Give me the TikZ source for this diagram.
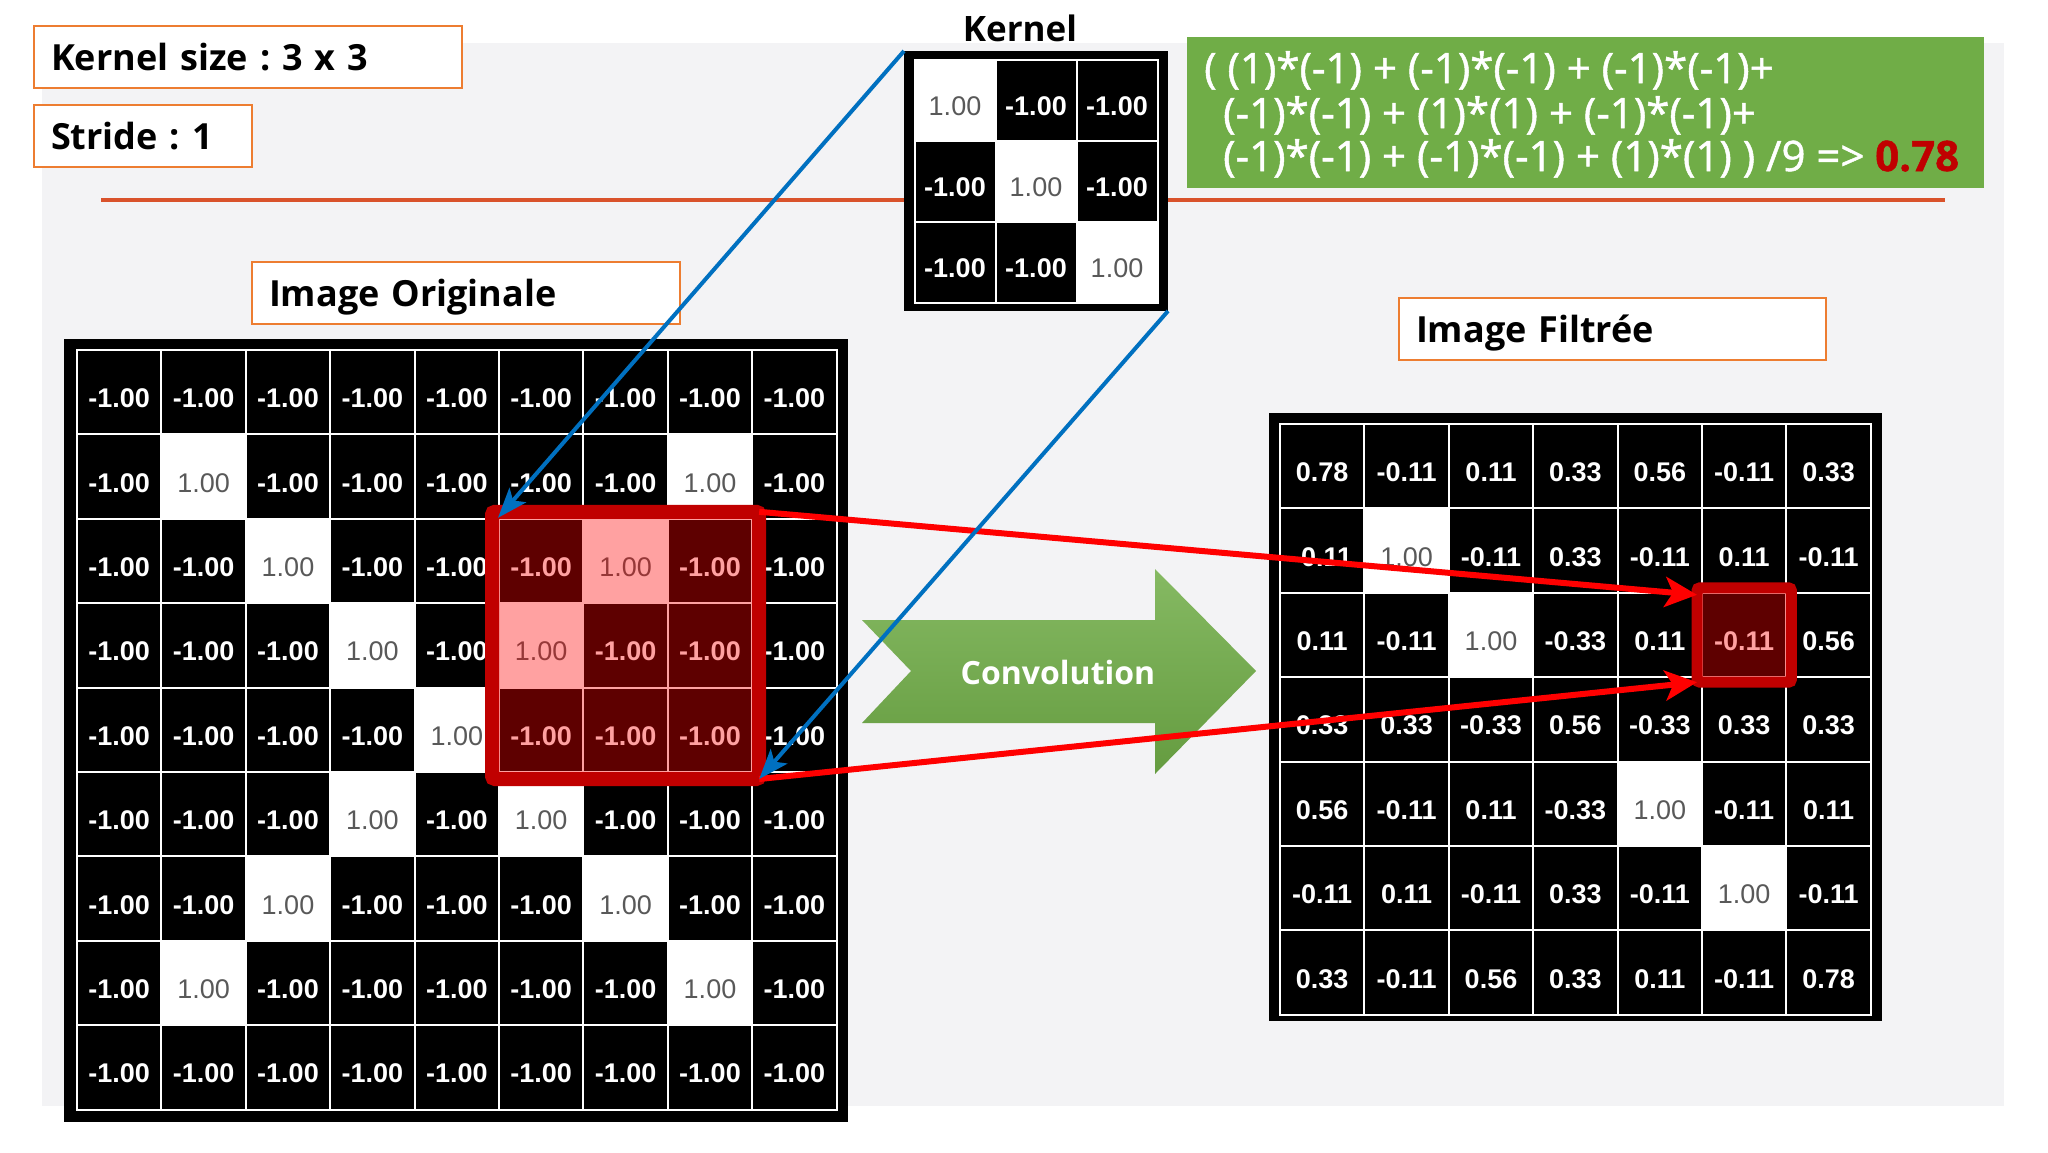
\documentclass[tikz,border=0pt]{standalone}
\usepackage{fontspec}
\setmainfont{Open Sans}
\newfontfamily\numfont{Liberation Sans}
\newfontfamily\formfont[FakeBold=1.2]{Open Sans}
\usetikzlibrary{arrows.meta}
\usetikzlibrary{calc}
\usetikzlibrary{fit}
\frenchspacing
\definecolor{panel}{HTML}{F3F3F5}
\definecolor{lblorange}{HTML}{ED7D31}
\definecolor{rule}{HTML}{D9522B}
\definecolor{formgreen}{HTML}{70AD47}
\definecolor{darkred}{HTML}{C00000}
\definecolor{kblue}{HTML}{0070C0}
\definecolor{numgrey}{HTML}{595959}
\tikzset{lbl/.style={draw=lblorange, line width=2pt, fill=white, anchor=north west, inner xsep=17pt, inner ysep=0pt, minimum height=62pt, text height=26pt, text depth=0pt, align=left, font=\bfseries\fontsize{36}{40}\selectfont}}
\tikzset{cell/.style={minimum size=84.4pt, inner sep=0pt, draw=white, line width=2pt, text height=31pt, text depth=0pt}}
\tikzset{bcell/.style={cell, fill=black, text=white, font=\numfont\bfseries\fontsize{27}{27}\selectfont}}
\tikzset{wcell/.style={cell, fill=white, text=numgrey, font=\numfont\fontsize{27}{27}\selectfont}}
\tikzset{gridframe/.style={fill=black, anchor=north west, inner sep=0pt, outer sep=0pt}}
\tikzset{winbox/.style={draw=darkred, line width=14pt, inner sep=6pt, outer sep=0pt, rounded corners=3pt}}
\tikzset{redarr/.style={draw=red, line width=6pt, -{Stealth[length=32pt, width=30pt, inset=8pt]}}}
\tikzset{bluearr/.style={draw=kblue, line width=4pt, -{Stealth[length=30pt, width=22pt, inset=7pt]}}}
\tikzset{formline/.style={anchor=base west, inner sep=0pt, text=white, font=\formfont\fontsize{42}{44}\selectfont}}

\begin{document}
\begin{tikzpicture}[x=1pt, y=-1pt]
  \useasboundingbox (0,0) rectangle (2048,1152);
  \fill[white] (0,0) rectangle (2048,1152);
  \fill[panel] (42,43) rectangle (2004,1106);
  \draw[rule, line width=4pt] (101,200) -- (1945,200);

  \node[lbl, text width=394pt] (ksize) at (33,25) {Kernel size : 3 x 3};
  \node[lbl, text width=184pt] (stride) at (33,104) {Stride : 1};
  \node[lbl, text width=394pt] (origlbl) at (251,261) {Image Originale};
  \node[lbl, text width=393pt] (filtlbl) at (1398,297) {Image Filtrée};

  \node[font=\bfseries\fontsize{35}{40}\selectfont] (ktitle) at (1020,28) {Kernel};
  \node[gridframe, minimum width=264pt, minimum height=260pt] (kframe) at (904,51) {};
  \foreach \row [count=\r from 0] in {{1.00,-1.00,-1.00},{-1.00,1.00,-1.00},{-1.00,-1.00,1.00}}{
    \foreach \v [count=\c from 0] in \row {
      \ifdim\v pt>0pt \def\cellsty{wcell}\else\def\cellsty{bcell}\fi
      \node[\cellsty, minimum size=81pt] (k-\r-\c) at (955+81*\c, 100+81*\r) {\v};
    }
  }

  \node[gridframe, minimum width=784pt, minimum height=783pt] (oframe) at (64,339) {};
  \foreach \row [count=\r from 0] in {
      {-1.00,-1.00,-1.00,-1.00,-1.00,-1.00,-1.00,-1.00,-1.00},
      {-1.00,1.00,-1.00,-1.00,-1.00,-1.00,-1.00,1.00,-1.00},
      {-1.00,-1.00,1.00,-1.00,-1.00,-1.00,1.00,-1.00,-1.00},
      {-1.00,-1.00,-1.00,1.00,-1.00,1.00,-1.00,-1.00,-1.00},
      {-1.00,-1.00,-1.00,-1.00,1.00,-1.00,-1.00,-1.00,-1.00},
      {-1.00,-1.00,-1.00,1.00,-1.00,1.00,-1.00,-1.00,-1.00},
      {-1.00,-1.00,1.00,-1.00,-1.00,-1.00,1.00,-1.00,-1.00},
      {-1.00,1.00,-1.00,-1.00,-1.00,-1.00,-1.00,1.00,-1.00},
      {-1.00,-1.00,-1.00,-1.00,-1.00,-1.00,-1.00,-1.00,-1.00}}{
    \foreach \v [count=\c from 0] in \row {
      \ifdim\v pt>0pt \def\cellsty{wcell}\else\def\cellsty{bcell}\fi
      \node[\cellsty] (o-\r-\c) at (119.2+84.4*\c, 392.2+84.4*\r) {\v};
    }
  }
  \fill[red, opacity=0.37] (o-2-5.north west) rectangle (o-4-7.south east);
  \node[winbox, fit=(o-2-5)(o-4-7)] (win) {};

  \node[gridframe, minimum width=613pt, minimum height=608pt] (fframe) at (1269,413) {};
  \foreach \row [count=\r from 0] in {
      {0.78,-0.11,0.11,0.33,0.56,-0.11,0.33},
      {-0.11,1.00,-0.11,0.33,-0.11,0.11,-0.11},
      {0.11,-0.11,1.00,-0.33,0.11,-0.11,0.56},
      {0.33,0.33,-0.33,0.56,-0.33,0.33,0.33},
      {0.56,-0.11,0.11,-0.33,1.00,-0.11,0.11},
      {-0.11,0.11,-0.11,0.33,-0.11,1.00,-0.11},
      {0.33,-0.11,0.56,0.33,0.11,-0.11,0.78}}{
    \foreach \v [count=\c from 0] in \row {
      \ifdim\v pt>0.9pt \def\cellsty{wcell}\else\def\cellsty{bcell}\fi
      \node[\cellsty] (f-\r-\c) at (1322.2+84.4*\c, 466.2+84.4*\r) {\v};
    }
  }
  \fill[red, opacity=0.37] (f-2-5.north west) rectangle (f-2-5.south east);
  \node[winbox, line width=11pt, inner sep=4pt, fit=(f-2-5)] (fwin) {};

  \node[fill=formgreen, anchor=north west, minimum width=797pt, minimum height=151pt, inner sep=0pt, outer sep=0pt] (formbox) at (1187,37) {};
  \node[formline] (form1) at (1204,83) {( (1)*(-1) + (-1)*(-1) + (-1)*(-1)+};
  \node[formline] (form2) at (1223,128) {(-1)*(-1) + (1)*(1) + (-1)*(-1)+};
  \node[formline] (form3) at (1223,171) {(-1)*(-1) + (-1)*(-1) + (1)*(1) ) /9 => \textcolor{darkred}{\bfseries 0.78}};

  \shade[top color=formgreen!85!white, bottom color=formgreen!90!black] (862,620) -- (1155,620) -- (1155,569) -- (1256,671) -- (1155,774) -- (1155,723) -- (862,723) -- (911,671) -- cycle;
  \node[text=white, font=\bfseries\fontsize{32}{36}\selectfont] (conv) at (1058,672) {Convolution};

  \draw[redarr] (win.north east) -- ($(fwin.north west)+(0,7)$);
  \draw[redarr] (win.south east) -- (fwin.south west);
  \draw[bluearr] (kframe.north west) -- (o-2-5.north west);
  \draw[bluearr] (kframe.south east) -- (win.south east);
\end{tikzpicture}
\end{document}
